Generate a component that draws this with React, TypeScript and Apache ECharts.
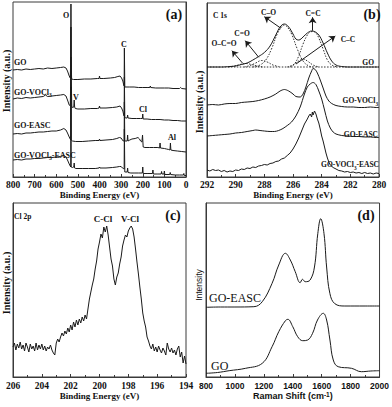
import React, { useEffect, useRef } from "react";
import * as echarts from "echarts";

const SERIF = '"Liberation Serif", "Times New Roman", serif';
const SANS = '"Liberation Sans", Arial, sans-serif';
const INK = "#1a1a1a";
const FRAME = "#3a3a3a";

// ---------- (a) XPS survey: [binding energy (eV), intensity (a.u.)] ----------
const surveyGO: number[][] = [[800,107],[780,107.5],[760,107],[740,108],[720,107.5],[700,108],[680,108.5],[660,108],[640,109],[620,108.5],[600,109],[580,109.5],[565,110],[555,109],[548,106],[540,101],[535,99],[533,120],[532,173],[531,120],[529,98],[520,97.5],[500,97.5],[470,98],[440,98],[410,98.5],[402,98.5],[400,101],[398,98.5],[380,98.5],[350,99],[330,99.5],[315,100.5],[305,101],[298,99],[292,96],[288,92],[286,91],[285,129],[284,129],[283,90],[280,90],[260,90],[240,90],[220,89.5],[200,89.5],[180,89.5],[167,89.5],[165,91],[163,89.5],[140,89],[120,89],[100,89],[80,89],[60,88.5],[30,88.5],[25,89.5],[20,88.5],[0,88]];
const surveyVOCl3: number[][] = [[800,78],[780,79],[760,78.5],[740,79.5],[720,79],[700,79.5],[680,80],[660,80.5],[650,82],[640,80.5],[620,81],[600,81.5],[580,82],[565,82.5],[555,81],[548,77],[540,72],[535,71],[533,100],[532,150],[531,100],[528,70],[522,69.5],[519,70],[517,77],[515,70],[512,68.5],[500,68],[470,68],[440,68.5],[410,68.5],[402,69],[400,71],[398,69],[370,69],[340,69.5],[320,70],[305,71],[298,69],[292,66],[288,62],[286,61],[285,100],[284,100],[283,60],[280,59],[272,59],[270,62],[268,59],[250,58.5],[230,58.5],[210,58.5],[202,58.5],[200,63],[198,58],[180,58],[160,57.5],[140,57.5],[120,57.5],[100,57],[80,57],[60,56.5],[40,56.5],[20,56],[0,56]];
const surveyEASC: number[][] = [[800,43],[780,43.5],[760,43],[740,44],[720,44],[700,44.5],[680,45],[660,45],[640,45.5],[620,46],[600,46],[580,47],[565,48.5],[555,47],[548,44],[540,40],[533,37],[532,120],[531,37],[525,36],[510,35.5],[480,35.5],[450,36],[420,36.5],[402,36.5],[400,38],[398,36.5],[370,37],[340,37.5],[320,38.5],[308,39.5],[300,39],[294,37],[290,36],[286,36],[285,75],[284,75],[283,36],[278,36],[272,36],[270,42],[268,36],[260,37],[250,38],[235,38.5],[222,39.5],[215,38],[210,36],[204,35],[202,35],[201,42],[199,42],[198,30],[190,29.5],[170,29.5],[150,29.5],[130,29.5],[122,29],[120,34],[118,29],[100,28.5],[90,28],[80,27.5],[74,27],[72,34],[70,27],[60,26.5],[40,26],[20,25.5],[0,25]];
const surveyVOCl3EASC: number[][] = [[800,17],[780,17.5],[760,17],[740,18],[720,18],[700,18.5],[680,18.5],[660,19],[640,19.5],[620,19.5],[600,20],[580,20.5],[565,21.5],[555,20],[548,17],[540,13],[533,10],[532,90],[531,10],[525,9.5],[519,10],[517,14],[515,9],[510,8.5],[480,8.5],[450,8.5],[420,8.5],[402,9],[400,10],[398,9],[370,9],[340,9.5],[320,10],[308,10.5],[300,10.5],[294,9],[290,8.5],[286,8],[285,48],[284,48],[283,5],[278,5],[272,5],[270,9],[268,4.5],[255,4],[240,4],[220,4],[202,4],[200,10],[198,3.5],[180,3.5],[155,3.5],[153,7],[151,3],[130,3],[115,3],[113,5.5],[111,3],[102,3],[100,6],[98,2.5],[75,2.5],[73,4.5],[71,2.5],[50,2],[30,2],[12,2],[10,3.5],[8,1.5],[0,1.5]];

// ---------- (b) C 1s ----------
const c1sGO: number[][] = [[292,110],[291,110],[290.4,110.5],[290,111],[289.6,112.5],[289.2,114],[288.8,117],[288.4,120.5],[288,124.5],[287.6,131],[287.2,142],[286.9,150],[286.6,153],[286.3,150],[286,143],[285.8,138],[285.6,137],[285.3,140],[285,144],[284.7,146],[284.5,145.5],[284.2,142],[283.9,134],[283.6,124],[283.3,116],[283,112],[282.6,110.5],[282,110],[280,110]];
const fitCO: number[][] = [[288.8,110],[288.3,112],[287.9,117],[287.5,128],[287.1,143],[286.8,150],[286.6,152],[286.4,150],[286.1,143],[285.7,128],[285.3,116],[284.9,111],[284.6,110]];
const fitCC2: number[][] = [[286.2,110],[285.9,113],[285.6,121],[285.3,133],[285,142],[284.8,145],[284.6,145.5],[284.4,144],[284.2,139],[283.9,128],[283.6,117],[283.3,112],[282.9,110]];
const fitCC1: number[][] = [[286.4,110],[286,112],[285.6,116],[285.3,118],[285,116],[284.6,112],[284.2,110]];
const fitCeqO: number[][] = [[289.4,110],[289,111.5],[288.6,114],[288.2,116.5],[287.8,115],[287.4,112],[287,110.5]];
const fitOCO: number[][] = [[290.5,110],[290.1,111],[289.7,112.5],[289.3,113.5],[288.9,112.5],[288.5,111],[288.1,110]];
const fitBase: number[][] = [[292,110],[280,110]];
const c1sVOCl3: number[][] = [[292,72],[291.6,72.5],[291.2,72],[290.8,73],[290.4,73.5],[290,73.5],[289.6,74.5],[289.2,75],[288.8,75.5],[288.4,76.5],[288,78],[287.6,80],[287.2,83],[286.9,86],[286.6,87.5],[286.3,86],[286,83],[285.8,80.5],[285.5,80],[285.3,83],[285.1,90],[284.9,99],[284.7,106],[284.6,108.5],[284.45,107.5],[284.3,104],[284.1,97],[283.9,89],[283.7,81],[283.5,76],[283.3,73.5],[283,71.5],[282.6,70.5],[282.2,70],[281.8,70],[281.4,69.5],[281,69.5],[280.6,70],[280.2,69.5],[280,69.5]];
const c1sEASC: number[][] = [[292,41],[291.6,41.5],[291.2,42],[290.8,42.5],[290.4,43],[290,44],[289.6,44.5],[289.2,45.5],[288.8,46.5],[288.6,47],[288.3,46.5],[288,46],[287.6,45.5],[287.3,45.5],[287,46.5],[286.7,48.5],[286.4,51.5],[286.1,55],[285.8,61],[285.5,70],[285.2,83],[285,90],[284.8,93],[284.6,94.5],[284.4,92.5],[284.2,86],[284,78],[283.8,67],[283.6,56],[283.4,49],[283.2,45],[283,43],[282.6,41.5],[282.2,41],[281.8,40.5],[281.4,40.5],[281,40],[280.6,40],[280.2,39.5],[280,39.5]];
const c1sVOCl3EASC: number[][] = [[292,7],[291.8,6],[291.6,7.5],[291.4,6.5],[291.2,7],[291,5.5],[290.8,6.5],[290.6,5],[290.4,6],[290.2,5.5],[290,7],[289.8,6.5],[289.6,8],[289.4,7.5],[289.2,9],[289,8.5],[288.8,10],[288.6,9.5],[288.4,11],[288.2,11.5],[288,12.5],[287.8,12],[287.6,13.5],[287.4,14],[287.2,15.5],[287,16],[286.8,18],[286.6,19],[286.4,21.5],[286.2,24],[286,28],[285.8,33],[285.6,39],[285.4,46],[285.2,53],[285,58],[284.9,61],[284.8,63],[284.7,60],[284.65,65],[284.6,62],[284.5,66],[284.4,63],[284.3,58],[284.2,54],[284.1,48],[284,41],[283.9,36],[283.8,30],[283.7,24],[283.6,19],[283.5,15],[283.4,12],[283.2,9.5],[283,8],[282.8,6.5],[282.6,6],[282.4,5],[282.2,5.5],[282,4.5],[281.8,5],[281.6,4],[281.4,4.5],[281.2,3.5],[281,4.5],[280.8,3.5],[280.6,4],[280.4,3],[280.2,4],[280,3.5]];
// arrows: [fromBE, fromI, toBE, toI]
const c1sArrows: number[][] = [[286.84,148.7,288.0,160.3],[284.63,146.3,284.63,159.7],[288.39,119.7,289.33,136.3],[289.51,113.7,290.26,126.3],[285.79,113,283.05,141]];

// ---------- (c) Cl 2p ----------
const cl2pBE: number[] = [206.0,205.9,205.8,205.7,205.6,205.5,205.4,205.3,205.2,205.1,205.0,204.9,204.8,204.7,204.6,204.5,204.4,204.3,204.2,204.1,204.0,203.9,203.8,203.7,203.6,203.5,203.4,203.3,203.2,203.1,203.0,202.9,202.8,202.7,202.6,202.5,202.4,202.3,202.2,202.1,202.0,201.9,201.8,201.7,201.6,201.5,201.4,201.3,201.2,201.1,201.0,200.9,200.8,200.7,200.6,200.5,200.4,200.3,200.2,200.1,200.0,199.9,199.8,199.7,199.6,199.5,199.4,199.3,199.2,199.1,199.0,198.9,198.8,198.7,198.6,198.5,198.4,198.3,198.2,198.1,198.0,197.9,197.8,197.7,197.6,197.5,197.4,197.3,197.2,197.1,197.0,196.9,196.8,196.7,196.6,196.5,196.4,196.3,196.2,196.1,196.0,195.9,195.8,195.7,195.6,195.5,195.4,195.3,195.2,195.1,195.0,194.9,194.8,194.7,194.6,194.5,194.4,194.3,194.2,194.1,194.0];
const cl2pI: number[] = [30,34,27,33,29,35,28,32,26,34,30,25,33,28,31,26,34,27,32,28,33,27,31,26,30,28,32,27,24,22,34,38,35,40,44,41,46,43,49,45,52,47,55,50,57,52,58,54,60,56,62,58,68,78,85,92,98,108,116,128,135,143,139,150,145,151,142,130,118,111,98,92,100,104,113,120,131,137,142,140,146,149,151,148,140,128,115,103,90,78,64,56,50,40,36,31,28,33,26,30,25,31,27,24,29,26,22,34,28,25,29,24,27,22,28,31,20,25,14,21,13];

// ---------- (d) Raman: [Raman shift (cm-1), intensity] ----------
const ramanEASC: number[][] = [[800,69.7],[900,70],[1000,70],[1131,70.3],[1189,75.3],[1257,93.7],[1303,112],[1349,123.7],[1383,117],[1417,105.3],[1451,94.3],[1467,97.7],[1486,95.3],[1520,97],[1550,110],[1573,143.3],[1593,158.3],[1616,143.3],[1634,110],[1657,83.3],[1691,73.3],[1760,71],[1900,71],[2000,71]];
const ramanGO: number[][] = [[800,3.7],[880,4.5],[960,6.3],[1074,8.7],[1189,13.7],[1257,30.3],[1303,45.3],[1349,56.3],[1366,57.7],[1400,50.3],[1434,40.3],[1469,36.3],[1503,37],[1537,43.7],[1571,57],[1611,63.7],[1634,57],[1657,37],[1680,17],[1714,10.3],[1806,8.7],[1874,5.3],[1940,6],[2000,6.3]];

// axis ranges: [min, max, interval]
const xRangeA = [0, 800, 100];
const xRangeB = [280, 292, 2];
const xRangeC = [194, 206, 2];
const xRangeD = [800, 2000, 200];

export default function App() {
  const ref = useRef<HTMLDivElement>(null);
  useEffect(() => {
    const chart = echarts.init(ref.current!, null, { renderer: "svg" });
    const grids = [
      { left: 13, top: 2, width: 173, height: 175 },
      { left: 207, top: 3, width: 172, height: 174 },
      { left: 13, top: 203, width: 173, height: 174 },
      { left: 206, top: 203, width: 175, height: 174 },
    ].map((g) => ({ ...g, show: true, borderColor: FRAME, borderWidth: 1, backgroundColor: "transparent" }));

    const xAx = (i: number, r: number[], inverse: boolean, name: any, sans: boolean, nameGap: number, margin: number, rich?: any) => ({
      type: "value", gridIndex: i, min: r[0], max: r[1], interval: r[2], inverse,
      axisLine: { show: true, onZero: false, lineStyle: { color: FRAME, width: 1 } },
      axisTick: { show: true, inside: true, length: 3, lineStyle: { color: FRAME } },
      minorTick: { show: true, splitNumber: 2, length: 2, lineStyle: { color: FRAME } },
      splitLine: { show: false },
      axisLabel: {
        color: "#111", fontFamily: sans ? SANS : SERIF, fontWeight: "bold", fontSize: sans ? 8.5 : 9.5, margin,
        formatter: (v: number) => String(v),
      },
      name, nameLocation: "middle", nameGap,
      nameTextStyle: { color: "#111", fontFamily: sans ? SANS : SERIF, fontWeight: "bold", fontSize: 9, rich },
    });
    const yAx = (i: number, max: number) => ({
      type: "value", gridIndex: i, min: 0, max,
      axisLine: { show: true, lineStyle: { color: FRAME, width: 1 } },
      axisTick: { show: false }, axisLabel: { show: false }, splitLine: { show: false },
    });

    const line = (data: any, ax: number, extra: any = {}) => ({
      type: "line", data, xAxisIndex: ax, yAxisIndex: ax, showSymbol: false, symbol: "none",
      lineStyle: { color: INK, width: 1 }, silent: true, ...extra,
    });
    const dotted = (data: any) => line(data, 1, { smooth: 0.4, lineStyle: { color: INK, width: 0.9, type: [1.5, 1.5] } });

    const cl2p = cl2pBE.map((x, k) => [x, cl2pI[k]]);

    const txt = (text: string, x: number, y: number, size: number, opts: any = {}) => ({
      type: "text", x, y, rotation: opts.rot || 0, silent: true,
      style: {
        text, fill: "#111", fontFamily: opts.sans ? SANS : SERIF, fontWeight: opts.weight || "bold", fontSize: size,
        align: opts.align || "center", verticalAlign: "middle", textAlign: opts.align || "center", textVerticalAlign: "middle",
        rich: opts.rich,
      },
    });
    const subRich = (size: number) => ({
      m: { fontFamily: SERIF, fontWeight: "bold", fontSize: size, fill: "#111", lineHeight: size + 2, verticalAlign: "bottom" },
      s: { fontFamily: SERIF, fontWeight: "bold", fontSize: size * 0.7, fill: "#111", lineHeight: size * 0.7, verticalAlign: "bottom", padding: [0, 0, -2, 0] },
    });

    const graphic = [
      // panel (a)
      txt("(a)", 174, 14, 14),
      txt("O", 66, 15, 8),
      txt("C", 124, 44, 8),
      txt("V", 76, 97, 8),
      txt("Cl", 143, 109, 8),
      txt("Al", 172, 137, 8),
      txt("GO", 14, 62, 8, { align: "left" }),
      txt("{m|GO-VOCl}{s|3}", 14, 91, 8, { align: "left", rich: subRich(8) }),
      txt("GO-EASC", 14, 125, 8, { align: "left" }),
      txt("{m|GO-VOCl}{s|3}{m|-EASC}", 14, 154, 8, { align: "left", rich: subRich(8) }),
      txt("Intensity (a.u.)", 6, 81, 10, { rot: Math.PI / 2 }),
      // panel (b)
      txt("(b)", 372, 14, 14),
      txt("C 1s", 220, 15, 7.5),
      txt("C\u2013O", 268.5, 12.5, 7.5),
      txt("C=C", 313, 13, 7.5),
      txt("C=O", 242, 33.5, 7.5),
      txt("O\u2013C=O", 224, 43.5, 7.5),
      txt("C\u2013C", 348, 39.5, 7.5),
      txt("GO", 374, 62, 7.5, { align: "right" }),
      txt("{m|GO-VOCl}{s|3}", 378, 100, 7.5, { align: "right", rich: subRich(7.5) }),
      txt("GO-EASC", 378, 134, 7.5, { align: "right" }),
      txt("{m|GO-VOCl}{s|3}{m|-EASC}", 379, 164, 7.5, { align: "right", rich: subRich(7.5) }),
      txt("Intensity (a.u.)", 199.5, 102, 10, { rot: Math.PI / 2 }),
      // panel (c)
      txt("(c)", 173, 215, 14),
      txt("Cl 2p", 14, 216, 7.5, { align: "left" }),
      txt("C-Cl", 103, 219, 9),
      txt("V-Cl", 130, 219, 9),
      txt("Intensity (a.u.)", 6, 283, 10, { rot: Math.PI / 2 }),
      // panel (d)
      txt("(d)", 366, 215, 14),
      txt("GO-EASC", 209, 298, 12, { align: "left", weight: "normal" }),
      txt("GO", 211, 366, 12, { align: "left", weight: "normal" }),
      txt("Intensity", 199, 285, 8.5, { rot: Math.PI / 2, sans: true, weight: "normal" }),
    ];

    const option: any = {
      animation: false,
      grid: grids,
      xAxis: [
        xAx(0, xRangeA, true, "Binding Energy (eV)", false, 12, 3),
        xAx(1, xRangeB, true, "Binding Energy (eV)", false, 12, 3),
        xAx(2, xRangeC, true, "Binding Energy (eV)", false, 14, 4),
        xAx(3, xRangeD, false, "{a|Raman Shift (cm}{s|-1}{a|)}", true, 14, 4, {
          a: { fontFamily: SANS, fontWeight: "bold", fontSize: 9, color: "#111" },
          s: { fontFamily: SANS, fontWeight: "bold", fontSize: 6.5, color: "#111", verticalAlign: "top", lineHeight: 8 },
        }),
      ],
      yAxis: [yAx(0, 175), yAx(1, 174), yAx(2, 174), yAx(3, 174)],
      series: [
        line(surveyGO, 0), line(surveyVOCl3, 0), line(surveyEASC, 0), line(surveyVOCl3EASC, 0),
        dotted(fitBase), dotted(fitCO), dotted(fitCC2), dotted(fitCC1), dotted(fitCeqO), dotted(fitOCO),
        line(c1sGO, 1, {
          smooth: 0.4,
          markLine: {
            silent: true, symbol: ["none", "arrow"], symbolSize: 6, animation: false,
            lineStyle: { color: INK, width: 1, type: "solid" }, label: { show: false },
            data: c1sArrows.map((a) => [{ coord: [a[0], a[1]] }, { coord: [a[2], a[3]] }]),
          },
        }),
        line(c1sVOCl3, 1, { smooth: 0.3 }), line(c1sEASC, 1, { smooth: 0.3 }), line(c1sVOCl3EASC, 1),
        line(cl2p, 2),
        line(ramanEASC, 3, { smooth: 0.4 }), line(ramanGO, 3, { smooth: 0.4 }),
      ],
      graphic,
    };
    chart.setOption(option);
    return () => chart.dispose();
  }, []);
  return <div ref={ref} style={{ position: "absolute", left: 0, top: 0, width: 392, height: 407, background: "#fff" }} />;
}
